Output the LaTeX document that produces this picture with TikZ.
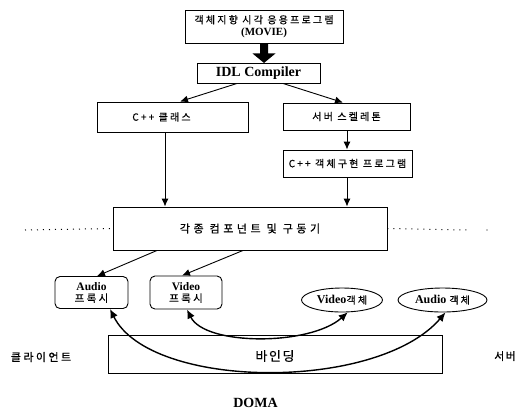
\documentclass[tikz,border=0pt]{standalone}
\usepackage{fontspec}
\setmainfont{Liberation Serif}
\newfontfamily\kra[LetterSpace=22,FakeBold=0.6]{Noto Sans CJK KR}
\newfontfamily\krb[LetterSpace=32,FakeBold=0.6]{Noto Sans CJK KR}
\newfontfamily\krc[LetterSpace=12,FakeBold=0.4]{Noto Sans CJK KR}
\usetikzlibrary{arrows.meta,shapes.geometric,calc}
\tikzset{
  box/.style={draw, line width=0.9pt, rectangle, inner sep=0pt, align=center},
  rbox/.style={draw, line width=0.9pt, rectangle, rounded corners=5pt, inner sep=0pt, align=center},
  obj/.style={draw, line width=0.9pt, ellipse, inner sep=0pt, align=center},
  arr/.style={line width=0.9pt, -{Latex[length=8pt,width=7pt]}},
  barr/.style={line width=1.4pt, {Latex[length=9pt,width=8pt]}-{Latex[length=9pt,width=8pt]}},
  dotline/.style={line width=1pt, dash pattern=on 1pt off 5pt},
  lbl/.style={font=\kra\fontsize{10}{12}\selectfont}
}
\begin{document}
\begin{tikzpicture}[x=1pt,y=-1pt]
\useasboundingbox (0,0) rectangle (518,413);
\node[box, minimum width=158pt, minimum height=33pt, font=\fontsize{10}{12}\selectfont] (top) at (264,26.5) {{\kra 객체지향 시각 응용프로그램}\\\textbf{\fontsize{11}{12}\selectfont(MOVIE)}};
\node[box, minimum width=123pt, minimum height=20pt, font=\bfseries\fontsize{14}{15}\selectfont] (idl) at (258.5,73) {IDL Compiler};
\node[box, minimum width=151pt, minimum height=30pt, lbl] (cls) at (172.5,117) {C++ 클래스\hspace*{22pt}};
\node[box, minimum width=127pt, minimum height=27pt, lbl] (skel) at (346.5,116.5) {서버 스켈레톤};
\node[box, minimum width=129pt, minimum height=27pt, lbl] (impl) at (347.5,163.5) {C++ 객체구현 프로그램};
\node[box, minimum width=274pt, minimum height=43pt, font=\krb\fontsize{11}{13}\selectfont] (comp) at (250,228.5) {각종 컴포넌트 및 구동기};
\node[rbox, minimum width=73pt, minimum height=32pt, font=\fontsize{11.5}{12}\selectfont] (ap) at (91.5,292.5) {\textbf{Audio}\\{\kra\fontsize{10.5}{12}\selectfont 프록시}};
\node[rbox, minimum width=72pt, minimum height=33pt, font=\fontsize{11.5}{12}\selectfont] (vp) at (186,292.5) {\textbf{Video}\\{\kra\fontsize{10.5}{12}\selectfont 프록시}};
\node[obj, minimum width=81pt, minimum height=24pt, font=\fontsize{12}{13}\selectfont] (vo) at (342,300) {\textbf{Video}{\kra\fontsize{10}{11}\selectfont 객체}};
\node[obj, minimum width=89pt, minimum height=24pt, font=\fontsize{12}{13}\selectfont] (ao) at (442.5,300) {\textbf{Audio} {\kra\fontsize{10}{11}\selectfont 객체}};
\node[box, line width=0.7pt, minimum width=334pt, minimum height=38pt] (bind) at (275,354) {};
\node[font=\krc\fontsize{13}{15}\selectfont] (bindt) at (275,356) {바인딩};
\node[font=\kra\fontsize{11}{13}\selectfont] (client) at (41,357) {클라이언트};
\node[font=\krc\fontsize{11}{13}\selectfont] (server) at (505,356) {서버};
\node[font=\bfseries\fontsize{14}{16}\selectfont] (doma) at (255.5,403) {DOMA};
\coordinate (dl) at (25,230);
\coordinate (dr) at (467,230);
\coordinate (dd) at (487,230);
% connectors
\fill ($(top.south)+(-4,0)$) -- ($(top.south)+(4,0)$) -- ($(top.south)+(4,10)$)
  -- ($(top.south)+(11.5,10)$) -- ($(top.south)+(0,19.5)$) -- ($(top.south)+(-11.5,10)$)
  -- ($(top.south)+(-4,10)$) -- cycle;
\draw[arr] ([xshift=-21.5pt]idl.south) -- ([xshift=7.5pt]cls.north);
\draw[arr] ([xshift=24.5pt]idl.south) -- ([xshift=-3.5pt]skel.north);
\draw[arr] ([xshift=0.5pt]skel.south) -- ([xshift=-0.5pt]impl.north);
\draw[arr] ([xshift=-7.5pt]cls.south) -- ([xshift=-85pt]comp.north);
\draw[arr] ([xshift=-0.5pt]impl.south) -- ([xshift=97pt]comp.north);
\draw[arr] ([xshift=-93pt]comp.south) -- ([xshift=5.5pt]ap.north);
\draw[arr] ([xshift=-7pt]comp.south) -- ([xshift=-4pt]vp.north);
\draw[dotline] (dl) -- (comp.west);
\draw[dotline] (comp.east) -- (dr);
\fill (dd) circle (0.7pt);
\draw[barr] ([xshift=18.5pt]ap.south) .. controls (150,390) and (377,392) .. ([xshift=3pt]ao.south);
\draw[barr] ([xshift=1pt]vp.south) .. controls (205,346) and (310,346) .. (vo.-65);
\end{tikzpicture}
\end{document}
